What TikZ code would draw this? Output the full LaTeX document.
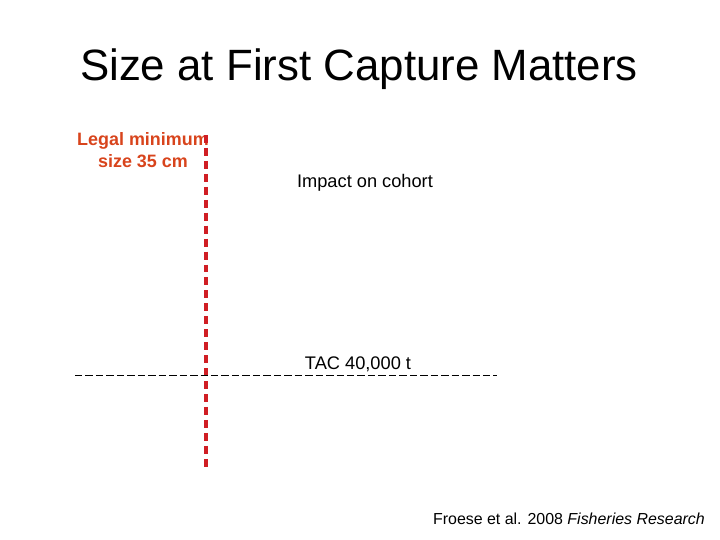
\documentclass[tikz,border=0pt]{standalone}
\usepackage{fontspec}
\setmainfont{Liberation Sans}
\usetikzlibrary{positioning}
\definecolor{scink}{HTML}{000000}
\definecolor{scred}{HTML}{D01E24}
\definecolor{scorange}{HTML}{D8441C}
\tikzset{
  sc title/.style={font=\fontsize{44}{50}\selectfont, text=scink},
  sc text/.style={font=\fontsize{18.3}{22}\selectfont, text=scink, align=center, inner sep=0pt},
  sc ref/.style={font=\fontsize{16}{20}\selectfont, text=scink, inner sep=0pt},
  sc legal/.style={font=\fontsize{18}{22}\selectfont\bfseries, text=scorange, align=center, inner sep=0pt},
  sc limit/.style={draw=scred, line width=3.2pt, dash pattern=on 8pt off 5pt},
  sc tac/.style={draw=scink, line width=0.9pt, dash pattern=on 7.5pt off 3pt}
}

\begin{document}
\begin{tikzpicture}[x=1bp, y=1bp]
  \useasboundingbox (0,0) rectangle (720,540);
  \node[sc title] (title) at (359,471) {Size at First Capture Matters};
  \node[sc legal] (legal) at (143,390) {Legal minimum\\size 35 cm};
  \coordinate (limTop) at (206,405);
  \coordinate (limBot) at (206,72);
  \draw[sc limit] (limTop) -- (limBot);
  \node[sc text] (impact) at (365,357) {Impact on cohort};
  \coordinate (tacL) at (75,165);
  \coordinate (tacR) at (497,165);
  \draw[sc tac] (tacL) -- (tacR);
  \node[sc text] (tac) at (358,176) {TAC 40,000 t};
  \node[sc ref, anchor=east] (ref) at (705,21) {Froese et al. 2008 \textit{Fisheries Research}};
\end{tikzpicture}
\end{document}
